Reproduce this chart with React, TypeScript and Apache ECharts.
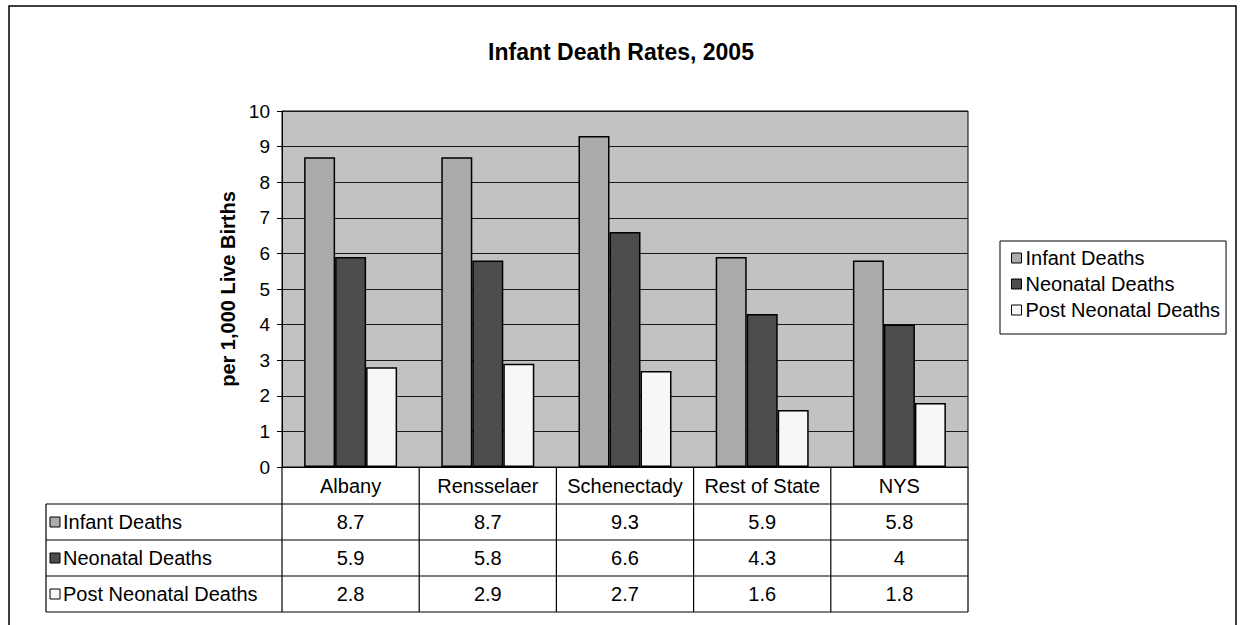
import React, { useEffect, useRef } from "react";
import * as echarts from "echarts";

const categories = ["Albany", "Rensselaer", "Schenectady", "Rest of State", "NYS"];
const seriesNames = ["Infant Deaths", "Neonatal Deaths", "Post Neonatal Deaths"];
const infantDeaths = [8.7, 8.7, 9.3, 5.9, 5.8];
const neonatalDeaths = [5.9, 5.8, 6.6, 4.3, 4.0];
const postNeonatalDeaths = [2.8, 2.9, 2.7, 1.6, 1.8];
const yMin = 0;
const yMax = 10;
const yInterval = 1;

const seriesData = [infantDeaths, neonatalDeaths, postNeonatalDeaths];
const seriesColors = ["#ababab", "#4d4d4d", "#f7f7f7"];

const FONT = "'Liberation Sans', Arial, sans-serif";
const GRID = { left: 282, top: 111, width: 686, height: 356 };

function fmt(v: number): string {
  return Number.isInteger(v) ? String(v) : v.toFixed(1);
}

export default function App() {
  const ref = useRef<HTMLDivElement>(null);
  useEffect(() => {
    if (!ref.current) return;
    const chart = echarts.init(ref.current, null, { renderer: "svg" });

    const gBottom = GRID.top + GRID.height;
    const colW = GRID.width / categories.length;
    const tableLeft = 46;
    const rowH = 36;
    const headerBottom = gBottom + 37;
    const tableBottom = headerBottom + rowH * seriesNames.length;
    const graphics: any[] = [];
    const line = (x1: number, y1: number, x2: number, y2: number) =>
      graphics.push({
        type: "line",
        shape: { x1, y1, x2, y2 },
        style: { stroke: "#000", lineWidth: 1.2 },
        silent: true,
      });

    // outer frame
    graphics.push({
      type: "rect",
      shape: { x: 9, y: 6, width: 1227, height: 660 },
      style: { fill: "none", stroke: "#000", lineWidth: 1.5 },
      silent: true,
      z: -1,
    });

    // table lines
    for (let r = 0; r <= seriesNames.length; r++) {
      const y = headerBottom + r * rowH;
      line(tableLeft, y, GRID.left + GRID.width, y);
    }
    line(tableLeft, headerBottom, tableLeft, tableBottom);
    for (let c = 0; c <= categories.length; c++) {
      const x = GRID.left + c * colW;
      line(x, gBottom, x, tableBottom);
    }
    // header
    categories.forEach((name, c) => {
      graphics.push({
        type: "text",
        x: GRID.left + (c + 0.5) * colW,
        y: (gBottom + headerBottom) / 2,
        style: {
          text: name,
          fill: "#000",
          font: `20px ${FONT}`,
          align: "center",
          verticalAlign: "middle",
        },
      });
    });
    // rows
    seriesNames.forEach((name, r) => {
      const cy = headerBottom + (r + 0.5) * rowH;
      graphics.push({
        type: "rect",
        shape: { x: 50, y: cy - 5, width: 10, height: 10 },
        style: { fill: seriesColors[r], stroke: "#000", lineWidth: 1 },
      });
      graphics.push({
        type: "text",
        x: 63,
        y: cy,
        style: {
          text: name,
          fill: "#000",
          font: `20px ${FONT}`,
          align: "left",
          verticalAlign: "middle",
        },
      });
      seriesData[r].forEach((v, c) => {
        graphics.push({
          type: "text",
          x: GRID.left + (c + 0.5) * colW,
          y: cy,
          style: {
            text: fmt(v),
            fill: "#000",
            font: `20px ${FONT}`,
            align: "center",
            verticalAlign: "middle",
          },
        });
      });
    });

    chart.setOption({
      animation: false,
      backgroundColor: "#ffffff",
      title: {
        text: "Infant Death Rates, 2005",
        left: 616,
        top: 35,
        textAlign: "center",
        textStyle: { fontFamily: FONT, fontSize: 23, fontWeight: "bold", color: "#000" },
      },
      grid: {
        left: GRID.left,
        top: GRID.top,
        width: GRID.width,
        height: GRID.height,
        show: true,
        backgroundColor: "#c2c2c2",
        borderColor: "#000",
        borderWidth: 1,
      },
      legend: {
        orient: "vertical",
        left: 1000,
        top: 241,
        data: seriesNames,
        icon: "rect",
        itemWidth: 10,
        itemHeight: 10,
        itemGap: 6,
        padding: [7, 6, 14, 11],
        borderColor: "#000",
        borderWidth: 1,
        itemStyle: { borderColor: "#000", borderWidth: 1 },
        textStyle: { fontFamily: FONT, fontSize: 20, color: "#000", padding: [0, 0, 0, -1] },
      },
      xAxis: {
        type: "category",
        data: categories,
        axisLine: { show: true, lineStyle: { color: "#000", width: 1.2 } },
        axisTick: { show: false },
        axisLabel: { show: false },
        splitLine: { show: false },
      },
      yAxis: {
        type: "value",
        min: yMin,
        max: yMax,
        interval: yInterval,
        name: "per 1,000 Live Births",
        nameLocation: "middle",
        nameGap: 38,
        nameRotate: 90,
        nameTextStyle: { fontFamily: FONT, fontSize: 20, fontWeight: "bold", color: "#000" },
        axisLine: { show: true, lineStyle: { color: "#000", width: 1 } },
        axisTick: { show: true, length: 5, lineStyle: { color: "#000" } },
        axisLabel: { fontFamily: FONT, fontSize: 19, color: "#000", margin: 12 },
        splitLine: { show: true, lineStyle: { color: "#1a1a1a", width: 1 } },
      },
      series: seriesNames.map((name, i) => ({
        name,
        type: "bar",
        data: seriesData[i],
        barWidth: 31,
        barGap: "0%",
        itemStyle: { color: seriesColors[i], borderColor: "#000", borderWidth: 1.5 },
      })),
      graphic: graphics,
    });

    return () => chart.dispose();
  }, []);

  return (
    <div
      ref={ref}
      style={{ position: "absolute", left: 0, top: 0, width: 1240, height: 625 }}
    />
  );
}
